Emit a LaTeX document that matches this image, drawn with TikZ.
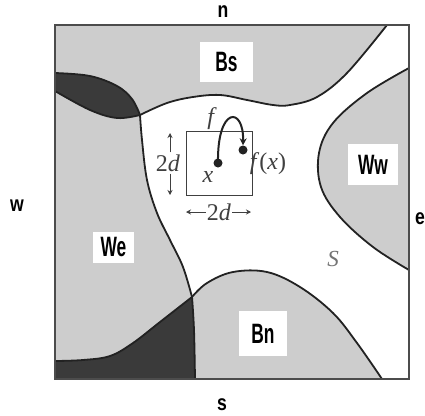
\documentclass[tikz,border=0pt]{standalone}
\usepackage{fontspec}
\usepackage{graphicx}
\setmainfont{Liberation Serif}
\setsansfont{Liberation Sans}
\usetikzlibrary{arrows.meta}
\definecolor{lightg}{HTML}{CDCDCD}
\definecolor{darkg}{HTML}{3A3A3A}
\definecolor{lineg}{HTML}{222222}
\definecolor{txtg}{HTML}{404040}
\newcommand{\reglbl}[1]{\scalebox{0.62}[1]{\sffamily\bfseries\fontsize{28}{28}\selectfont #1}}
\newcommand{\dirlbl}[1]{\scalebox{0.8}[1]{\sffamily\bfseries\fontsize{22}{22}\selectfont #1}}
\tikzset{
  boundary/.style={draw=lineg, line width=1.8pt},
  regbox/.style={fill=white, inner sep=0pt},
  dirtext/.style={inner sep=0pt},
  mathlbl/.style={inner sep=0pt, text=txtg, font=\fontsize{24}{24}\selectfont},
  dimarrow/.style={draw=txtg, line width=1pt, -{Stealth[length=5pt,width=5pt]}},
  dot/.style={circle, fill=lineg, inner sep=0pt, minimum size=9pt}
}
\begin{document}
\begin{tikzpicture}[x=1pt,y=-1pt]
\useasboundingbox (0,0) rectangle (425,415);
% background square
\fill[lightg] (55,25) rectangle (409,379);
% white S region
\fill[white] (140,115)
  -- plot[smooth, tension=0.6] coordinates {(140,115) (167,103) (193,97) (220,95) (247,100) (273,105) (290,105) (317,97) (347,73) (387,25)}
  -- (409,25) -- (409,68)
  -- plot[smooth, tension=0.6] coordinates {(409,68) (367,93) (333,123) (319,153) (321,187) (340,217) (373,247) (409,270)}
  -- (409,379) -- (382,379)
  -- plot[smooth, tension=0.6] coordinates {(382,379) (357,343) (333,313) (300,287) (267,272) (233,272) (207,283) (192,297)}
  -- plot[smooth, tension=0.6] coordinates {(192,297) (183,267) (170,240) (157,213) (147,180) (142,140) (140,115)}
  -- cycle;
% dark lens top-left
\fill[darkg] (55,73)
  -- plot[smooth, tension=0.6] coordinates {(55,73) (90,76) (117,86) (132,99) (140,115)}
  -- plot[smooth, tension=0.6] coordinates {(140,115) (117,118) (90,110) (55,91)}
  -- cycle;
% dark bottom-left
\fill[darkg] (192,297)
  -- plot[smooth, tension=0.6] coordinates {(192,297) (194,330) (195,379)}
  -- (55,379) -- (55,361)
  -- plot[smooth, tension=0.6] coordinates {(55,361) (83,360) (110,356) (133,343) (160,322) (192,297)}
  -- cycle;
% boundaries
\draw[boundary] plot[smooth, tension=0.6] coordinates {(140,115) (167,103) (193,97) (220,95) (247,100) (273,105) (290,105) (317,97) (347,73) (387,25)};
\draw[boundary] plot[smooth, tension=0.6] coordinates {(409,68) (367,93) (333,123) (319,153) (321,187) (340,217) (373,247) (409,270)};
\draw[boundary] plot[smooth, tension=0.6] coordinates {(382,379) (357,343) (333,313) (300,287) (267,272) (233,272) (207,283) (192,297)};
\draw[boundary] plot[smooth, tension=0.6] coordinates {(192,297) (183,267) (170,240) (157,213) (147,180) (142,140) (140,115)};
\draw[boundary] plot[smooth, tension=0.6] coordinates {(55,73) (90,76) (117,86) (132,99) (140,115)};
\draw[boundary] plot[smooth, tension=0.6] coordinates {(140,115) (117,118) (90,110) (55,91)};
\draw[boundary] plot[smooth, tension=0.6] coordinates {(192,297) (194,330) (195,379)};
\draw[boundary] plot[smooth, tension=0.6] coordinates {(55,361) (83,360) (110,356) (133,343) (160,322) (192,297)};
% square border
\draw[draw=black!70, line width=1.2pt] (55,25) rectangle (409,379);
% region labels
\node[regbox, minimum width=53pt, minimum height=40pt] (Bs) at (226.5,62) {\reglbl{Bs}};
\node[regbox, minimum width=50pt, minimum height=41pt] (Ww) at (373,164.5) {\reglbl{Ww}};
\node[regbox, minimum width=41pt, minimum height=31pt] (We) at (113.5,247.5) {\reglbl{We}};
\node[regbox, minimum width=48pt, minimum height=45pt] (Bn) at (263,333.5) {\reglbl{Bn}};
% direction labels
\node[dirtext] (n) at (223,12) {\dirlbl{n}};
\node[dirtext] (s) at (222,405) {\dirlbl{s}};
\node[dirtext] (w) at (17,206) {\dirlbl{w}};
\node[dirtext, anchor=east] (e) at (425,219) {\dirlbl{e}};
% inner figure
\draw[draw=txtg, line width=1pt] (186,131) rectangle (252,195);
\node[dot] (x) at (218,163) {};
\node[dot] (fx) at (243,150) {};
\draw[draw=lineg, line width=2pt, -{Stealth[length=7pt,width=7pt]}] (x.center) .. controls (217,106) and (244,106) .. (fx.north);
\node[mathlbl] (flbl) at (212,119) {\textit{f}};
\node[mathlbl] (xlbl) at (208,177) {\textit{x}};
\node[mathlbl] (fxlbl) at (268,164) {\textit{f}(\textit{x})};
\node[mathlbl] (vd) at (168,163) {2\textit{d}};
\node[mathlbl] (hd) at (219,212) {2\textit{d}};
\coordinate (vup) at (170,133);
\coordinate (vdn) at (170,195);
\coordinate (hl) at (186,212);
\coordinate (hr) at (251,212);
\draw[dimarrow] (vd.north -| vup) ++(0,-2) -- (vup);
\draw[dimarrow] (vd.south -| vdn) ++(0,2) -- (vdn);
\draw[dimarrow] (hd.west) ++(-1,0) -- (hl);
\draw[dimarrow] (hd.east) ++(1,0) -- (hr);
% S label
\node[inner sep=0pt, text=black!55, font=\fontsize{23}{23}\selectfont\itshape] (S) at (333,259) {S};
\end{tikzpicture}
\end{document}
